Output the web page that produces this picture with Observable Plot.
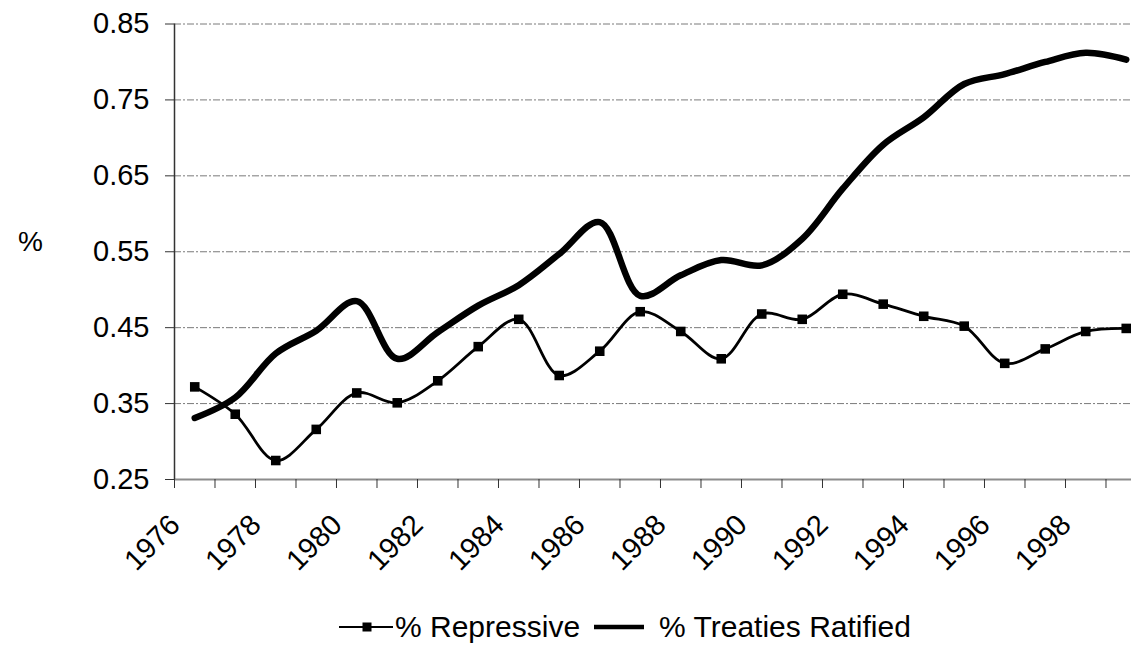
<!DOCTYPE html>
<html><head><meta charset="utf-8">
<script src="https://cdn.jsdelivr.net/npm/d3@7"></script>
<script src="https://cdn.jsdelivr.net/npm/@observablehq/plot@0.6"></script>
<style>
body{margin:0;background:#fff;font-family:"Liberation Sans",Arial,sans-serif;overflow:hidden}
#wrap{position:relative;width:1131px;height:660px}
#legend{position:absolute;left:339px;top:612px;font-size:30px;line-height:30px;display:flex;align-items:center;white-space:nowrap;color:#000}
#legend svg{display:block}
</style></head><body><div id="wrap"><div id="chart"></div><div id="legend"></div></div>
<script>
const years = [1976,1977,1978,1979,1980,1981,1982,1983,1984,1985,1986,1987,1988,1989,1990,1991,1992,1993,1994,1995,1996,1997,1998,1999];
const repressive = [0.372,0.336,0.275,0.316,0.364,0.351,0.380,0.425,0.461,0.387,0.419,0.471,0.445,0.409,0.468,0.461,0.494,0.481,0.465,0.452,0.403,0.422,0.445,0.449];
const treaties = [0.331,0.358,0.416,0.446,0.485,0.409,0.444,0.479,0.506,0.547,0.589,0.492,0.519,0.539,0.532,0.567,0.633,0.691,0.727,0.771,0.784,0.800,0.812,0.803];
const labelYears = [1976,1978,1980,1982,1984,1986,1988,1990,1992,1994,1996,1998];
const yTicks = [0.25,0.35,0.45,0.55,0.65,0.75,0.85];
const seriesNames = ["% Repressive","% Treaties Ratified"];
const yLabel = "%";

const data = years.map((y,i)=>({year:y, rep:repressive[i], tre:treaties[i]}));
const boundaries = years.map(y=>y-0.5);
const gridValues = yTicks.slice(1);
const font = '"Liberation Sans", Arial, sans-serif';

const chart = Plot.plot({
  width:1131, height:590,
  marginLeft:174, marginRight:0, marginTop:23.5, marginBottom:111,
  style:{fontFamily:font, fontSize:"29px", color:"#000", background:"#fff", overflow:"visible"},
  x:{type:"linear", domain:[1975.5, 1999.13]},
  y:{domain:[0.25,0.85]},
  marks:[
    Plot.ruleY(gridValues, {stroke:"#7a7a7a", strokeWidth:1, strokeDasharray:"7,2,2,2"}),
    Plot.ruleY([0.25], {stroke:"#8c8c8c", strokeWidth:2}),
    Plot.ruleX([1975.5], {stroke:"#333", strokeWidth:1.5}),
    Plot.axisY({ticks:yTicks, tickSize:9, tickPadding:16, tickFormat:d3.format(".2f"), fontSize:29, label:null, stroke:"#333"}),
    Plot.axisX({ticks:boundaries, tickSize:9, tickFormat:()=>"", label:null, stroke:"#333"}),
    Plot.text(labelYears, {x:d=>d, frameAnchor:"bottom", text:d=>String(d), rotate:-45, textAnchor:"end", lineAnchor:"bottom", dx:-13, dy:47, fontSize:29, fill:"#000"}),
    Plot.text([yLabel], {frameAnchor:"left", text:d=>d, textAnchor:"middle", dx:-144, dy:-10, fontSize:28, fill:"#000"}),
    Plot.line(data, {x:"year", y:"tre", curve:"catmull-rom", stroke:"#000", strokeWidth:6.5}),
    Plot.line(data, {x:"year", y:"rep", curve:"catmull-rom", stroke:"#000", strokeWidth:2.8}),
    Plot.dot(data, {x:"year", y:"rep", symbol:"square", r:5.4, fill:"#000", stroke:null})
  ]
});
document.getElementById("chart").appendChild(chart);

const legend = document.getElementById("legend");
legend.innerHTML =
  '<svg width="55" height="20"><line x1="0" y1="10" x2="54" y2="10" stroke="#000" stroke-width="2"/><rect x="23.5" y="5.5" width="9" height="9" fill="#000"/></svg>' +
  '<span style="margin-left:1px">' + seriesNames[0] + '</span>' +
  '<svg width="50" height="20" style="margin-left:14px"><line x1="0" y1="10" x2="50" y2="10" stroke="#000" stroke-width="4.5"/></svg>' +
  '<span style="margin-left:15px">' + seriesNames[1] + '</span>';
</script>
</body></html>
